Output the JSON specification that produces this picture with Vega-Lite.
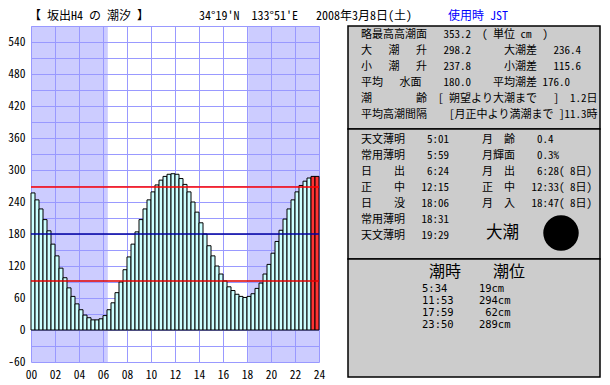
{
  "$schema": "https://vega.github.io/schema/vega-lite/v6.json",
  "background": "white",
  "padding": {"left": 7, "top": 5, "right": 0, "bottom": 0},
  "config": {
    "view": {"stroke": null},
    "font": "Noto Sans Mono CJK JP, Noto Sans CJK JP, monospace",
    "axis": {
      "labelFont": "Noto Sans Mono CJK JP, Noto Sans CJK JP, monospace",
      "labelFontSize": 11.5, "labelColor": "black",
      "grid": true, "gridColor": "#9999ff", "gridOpacity": 1, "gridWidth": 1,
      "ticks": false, "domain": false, "labelFlush": false, "labelOverlap": false,
      "labelBound": false, "title": null, "zindex": 0
    },
    "axisX": {"labelPadding": 7},
    "axisY": {"labelPadding": 6}
  },
  "datasets": {
    "header": [
      {"part": "place", "text": "【\u00a0坂出H4\u00a0の\u00a0潮汐\u00a0】"},
      {"part": "pos", "text": "34°19'N\u00a0\u00a0133°51'E\u00a0\u00a0\u00a02008年3月8日(土)"},
      {"part": "tz", "text": "使用時\u00a0JST"}
    ],
    "night": [
      {"m": 0, "e": 384},
      {"m": 1086, "e": 1440}
    ],
    "levels": [
      {"level": "平均高潮面", "cm": 268},
      {"level": "平均水面", "cm": 180},
      {"level": "平均低潮面", "cm": 92}
    ],
    "tide": [
      {"m":0,"e":20,"cm":257},{"m":20,"e":40,"cm":244},{"m":40,"e":60,"cm":227},{"m":60,"e":80,"cm":207},
      {"m":80,"e":100,"cm":186},{"m":100,"e":120,"cm":161},{"m":120,"e":140,"cm":139},{"m":140,"e":160,"cm":116},
      {"m":160,"e":180,"cm":98},{"m":180,"e":200,"cm":79},{"m":200,"e":220,"cm":63},{"m":220,"e":240,"cm":49},
      {"m":240,"e":260,"cm":38},{"m":260,"e":280,"cm":28},{"m":280,"e":300,"cm":23},{"m":300,"e":320,"cm":19},
      {"m":320,"e":340,"cm":19},{"m":340,"e":360,"cm":21},{"m":360,"e":380,"cm":27},{"m":380,"e":400,"cm":38},
      {"m":400,"e":420,"cm":51},{"m":420,"e":440,"cm":70},{"m":440,"e":460,"cm":90},{"m":460,"e":480,"cm":113},
      {"m":480,"e":500,"cm":137},{"m":500,"e":520,"cm":161},{"m":520,"e":540,"cm":184},{"m":540,"e":560,"cm":207},
      {"m":560,"e":580,"cm":227},{"m":580,"e":600,"cm":244},{"m":600,"e":620,"cm":259},{"m":620,"e":640,"cm":272},
      {"m":640,"e":660,"cm":281},{"m":660,"e":680,"cm":288},{"m":680,"e":700,"cm":292},{"m":700,"e":720,"cm":293},
      {"m":720,"e":740,"cm":292},{"m":740,"e":760,"cm":284},{"m":760,"e":780,"cm":273},{"m":780,"e":800,"cm":259},
      {"m":800,"e":820,"cm":240},{"m":820,"e":840,"cm":221},{"m":840,"e":860,"cm":201},{"m":860,"e":880,"cm":180},
      {"m":880,"e":900,"cm":158},{"m":900,"e":920,"cm":139},{"m":920,"e":940,"cm":120},{"m":940,"e":960,"cm":105},
      {"m":960,"e":980,"cm":92},{"m":980,"e":1000,"cm":81},{"m":1000,"e":1020,"cm":74},{"m":1020,"e":1040,"cm":67},
      {"m":1040,"e":1060,"cm":63},{"m":1060,"e":1080,"cm":61},{"m":1080,"e":1100,"cm":63},{"m":1100,"e":1120,"cm":68},
      {"m":1120,"e":1140,"cm":78},{"m":1140,"e":1160,"cm":88},{"m":1160,"e":1180,"cm":105},{"m":1180,"e":1200,"cm":123},
      {"m":1200,"e":1220,"cm":144},{"m":1220,"e":1240,"cm":166},{"m":1240,"e":1260,"cm":187},{"m":1260,"e":1280,"cm":208},
      {"m":1280,"e":1300,"cm":227},{"m":1300,"e":1320,"cm":244},{"m":1320,"e":1340,"cm":259},{"m":1340,"e":1360,"cm":271},
      {"m":1360,"e":1380,"cm":279},{"m":1380,"e":1400,"cm":285},{"m":1400,"e":1420,"cm":288},{"m":1420,"e":1440,"cm":288}
    ],
    "info1": [
      {"row": 1, "text": "略最高高潮面\u00a0\u00a0\u00a0353.2\u00a0\u00a0(\u00a0単位\u00a0cm\u00a0\u00a0)"},
      {"row": 2, "text": "大\u00a0\u00a0\u00a0潮\u00a0\u00a0\u00a0升\u00a0\u00a0\u00a0298.2\u00a0\u00a0\u00a0\u00a0\u00a0\u00a0大潮差\u00a0\u00a0\u00a0236.4"},
      {"row": 3, "text": "小\u00a0\u00a0\u00a0潮\u00a0\u00a0\u00a0升\u00a0\u00a0\u00a0237.8\u00a0\u00a0\u00a0\u00a0\u00a0\u00a0小潮差\u00a0\u00a0\u00a0115.6"},
      {"row": 4, "text": "平均\u00a0\u00a0\u00a0水面\u00a0\u00a0\u00a0\u00a0180.0\u00a0\u00a0\u00a0\u00a0平均潮差\u00a0176.0"},
      {"row": 5, "text": "潮\u00a0\u00a0\u00a0\u00a0\u00a0\u00a0\u00a0\u00a0齢\u00a0\u00a0[\u00a0朔望より大潮まで\u00a0\u00a0\u00a0]\u00a0\u00a01.2日"},
      {"row": 6, "text": "平均高潮間隔\u00a0\u00a0\u00a0\u00a0[月正中より満潮まで\u00a0]11.3時"}
    ],
    "info2": [
      {"row": 1, "text": "天文薄明\u00a0\u00a0\u00a0\u00a05:01\u00a0\u00a0\u00a0\u00a0\u00a0\u00a0月\u00a0\u00a0齢\u00a0\u00a0\u00a0\u00a00.4"},
      {"row": 2, "text": "常用薄明\u00a0\u00a0\u00a0\u00a05:59\u00a0\u00a0\u00a0\u00a0\u00a0\u00a0月輝面\u00a0\u00a0\u00a0\u00a00.3%"},
      {"row": 3, "text": "日\u00a0\u00a0\u00a0\u00a0出\u00a0\u00a0\u00a0\u00a06:24\u00a0\u00a0\u00a0\u00a0\u00a0\u00a0月\u00a0\u00a0出\u00a0\u00a0\u00a0\u00a06:28(\u00a08日)"},
      {"row": 4, "text": "正\u00a0\u00a0\u00a0\u00a0中\u00a0\u00a0\u00a012:15\u00a0\u00a0\u00a0\u00a0\u00a0\u00a0正\u00a0\u00a0中\u00a0\u00a0\u00a012:33(\u00a08日)"},
      {"row": 5, "text": "日\u00a0\u00a0\u00a0\u00a0没\u00a0\u00a0\u00a018:06\u00a0\u00a0\u00a0\u00a0\u00a0\u00a0月\u00a0\u00a0入\u00a0\u00a0\u00a018:47(\u00a08日)"},
      {"row": 6, "text": "常用薄明\u00a0\u00a0\u00a018:31"},
      {"row": 7, "text": "天文薄明\u00a0\u00a0\u00a019:29"}
    ],
    "moon": [
      {"row": 7, "phase": "大潮", "age": 0.4}
    ],
    "info3head": [
      {"row": 0, "text": "潮時\u00a0\u00a0\u00a0\u00a0潮位"}
    ],
    "info3": [
      {"row": 1, "text": "\u00a05:34\u00a0\u00a0\u00a0\u00a0\u00a019cm"},
      {"row": 2, "text": "11:53\u00a0\u00a0\u00a0\u00a0294cm"},
      {"row": 3, "text": "17:59\u00a0\u00a0\u00a0\u00a0\u00a062cm"},
      {"row": 4, "text": "23:50\u00a0\u00a0\u00a0\u00a0289cm"}
    ]
  },
  "bounds": "flush",
  "spacing": 0,
  "vconcat": [
    {
      "width": 560,
      "height": 21,
      "data": {"name": "header"},
      "layer": [
        {
          "transform": [{"filter": "datum.part === 'place'"}],
          "mark": {"type": "text", "align": "left", "baseline": "middle", "fontSize": 12, "dx": -282, "color": "black"},
          "encoding": {"text": {"field": "text"}}
        },
        {
          "transform": [{"filter": "datum.part === 'pos'"}],
          "mark": {"type": "text", "align": "left", "baseline": "middle", "fontSize": 12, "dx": -112, "color": "black"},
          "encoding": {"text": {"field": "text"}}
        },
        {
          "transform": [{"filter": "datum.part === 'tz'"}],
          "mark": {"type": "text", "align": "left", "baseline": "middle", "fontSize": 12, "dx": 137, "color": "#0000ff"},
          "encoding": {"text": {"field": "text"}}
        }
      ]
    },
    {
      "bounds": "flush",
      "spacing": 29,
      "hconcat": [
        {
          "width": 288,
          "height": 336,
          "encoding": {
            "x": {
              "field": "m", "type": "quantitative",
              "scale": {"domain": [0, 1440], "nice": false, "zero": false},
              "axis": {
                "values": [0,120,240,360,480,600,720,840,960,1080,1200,1320,1440],
                "labelExpr": "(datum.value < 600 ? '0' : '') + (datum.value / 60)",
                "grid": true, "labelOverlap": false
              }
            },
            "x2": {"field": "e"},
            "y": {
              "field": "cm", "type": "quantitative",
              "scale": {"domain": [-60, 570], "nice": false, "zero": false},
              "axis": {
                "values": [-60,-30,0,30,60,90,120,150,180,210,240,270,300,330,360,390,420,450,480,510,540,570],
                "labelExpr": "datum.value % 60 === 0 ? '' + datum.value : ''",
                "grid": true, "labelOverlap": false
              }
            }
          },
          "layer": [
            {
              "data": {"name": "night"},
              "mark": {"type": "rect", "color": "#9999ff", "opacity": 0.5},
              "encoding": {"y": null}
            },
            {
              "data": {"name": "tide"},
              "mark": {"type": "rect", "stroke": "black", "strokeWidth": 1},
              "encoding": {
                "y2": {"datum": 0},
                "fill": {"condition": {"test": "datum.m >= 1400", "value": "#ff3333"}, "value": "#ccffff"}
              }
            },
            {
              "data": {"name": "levels"},
              "mark": {"type": "rule", "strokeWidth": 1.5},
              "encoding": {
                "x": null,
                "x2": null,
                "color": {
                  "field": "level", "type": "nominal",
                  "scale": {"domain": ["平均高潮面", "平均水面", "平均低潮面"], "range": ["#ff0000", "#0000a0", "#e00000"]},
                  "legend": null
                }
              }
            }
          ]
        },
        {
          "bounds": "flush",
          "spacing": 0,
          "vconcat": [
            {
              "width": 252,
              "height": 103,
              "view": {"fill": "#cccccc", "stroke": "black", "strokeWidth": 1.5},
              "data": {"name": "info1"},
              "mark": {"type": "text", "align": "left", "baseline": "middle", "dx": -113, "fontSize": 11, "color": "black"},
              "encoding": {
                "y": {"field": "row", "type": "quantitative", "scale": {"domain": [0.4375, 6.875], "reverse": true, "nice": false, "zero": false}, "axis": null},
                "text": {"field": "text"}
              }
            },
            {
              "width": 252,
              "height": 130,
              "view": {"fill": "#cccccc", "stroke": "black", "strokeWidth": 1.5},
              "layer": [
                {
                  "data": {"name": "info2"},
                  "mark": {"type": "text", "align": "left", "baseline": "middle", "dx": -113, "fontSize": 11, "color": "black"},
                  "encoding": {
                    "y": {"field": "row", "type": "quantitative", "scale": {"domain": [0.3125, 8.4375], "reverse": true, "nice": false, "zero": false}, "axis": null},
                    "text": {"field": "text"}
                  }
                },
                {
                  "data": {"name": "moon"},
                  "mark": {"type": "text", "align": "left", "baseline": "middle", "dx": 12, "dy": -3, "fontSize": 16.5, "font": "Noto Sans CJK JP", "color": "black"},
                  "encoding": {
                    "y": {"field": "row", "type": "quantitative"},
                    "text": {"field": "phase"}
                  }
                },
                {
                  "data": {"name": "moon"},
                  "mark": {"type": "point", "shape": "circle", "filled": true, "color": "black", "opacity": 1, "size": 1257, "xOffset": 87, "yOffset": -3},
                  "encoding": {
                    "y": {"field": "row", "type": "quantitative"}
                  }
                }
              ]
            },
            {
              "width": 252,
              "height": 118,
              "view": {"fill": "#cccccc", "stroke": "black", "strokeWidth": 1.5},
              "layer": [
                {
                  "data": {"name": "info3head"},
                  "mark": {"type": "text", "align": "left", "baseline": "middle", "dx": -45, "dy": -5, "fontSize": 16, "color": "black"},
                  "encoding": {
                    "y": {"field": "row", "type": "quantitative", "scale": {"domain": [-1.517, 8.317], "reverse": true, "nice": false, "zero": false}, "axis": null},
                    "text": {"field": "text"}
                  }
                },
                {
                  "data": {"name": "info3"},
                  "mark": {"type": "text", "align": "left", "baseline": "middle", "dx": -52, "fontSize": 10.5, "font": "DejaVu Sans Mono", "color": "black"},
                  "encoding": {
                    "y": {"field": "row", "type": "quantitative"},
                    "text": {"field": "text"}
                  }
                }
              ]
            }
          ]
        }
      ]
    }
  ]
}
